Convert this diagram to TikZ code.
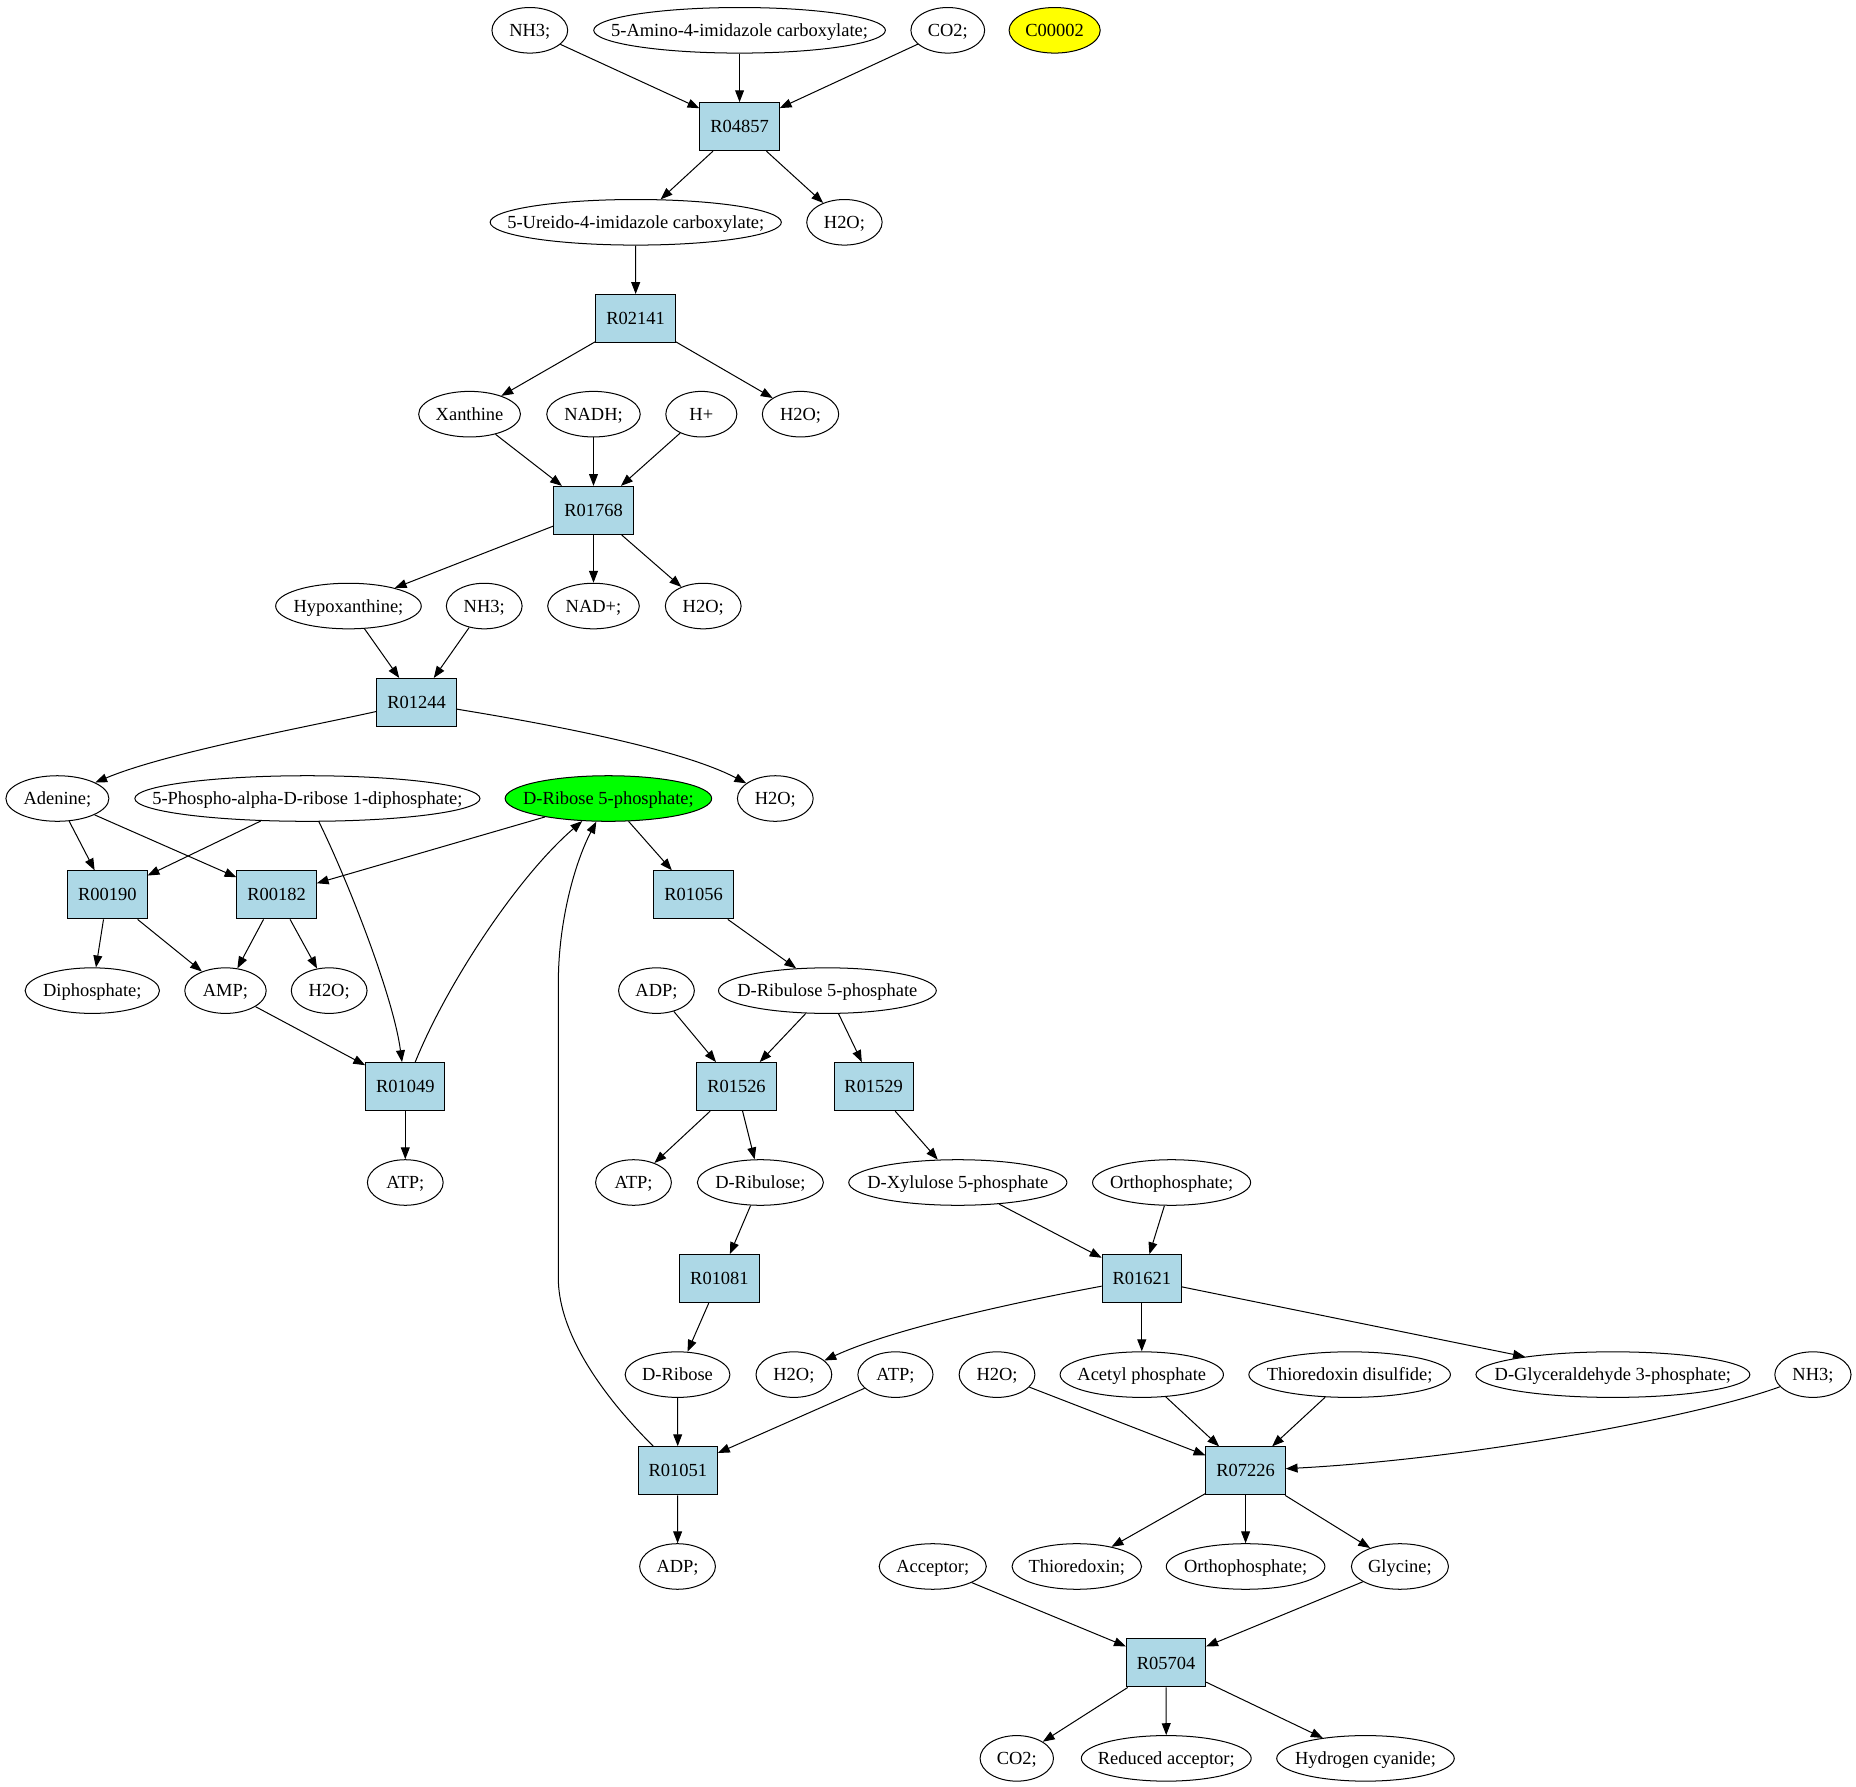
\documentclass[tikz,border=0pt]{standalone}
\usepackage{fontspec}
\setmainfont{Liberation Serif}
\usetikzlibrary{shapes.geometric,arrows.meta}
\definecolor{lblue}{RGB}{173,216,230}
\definecolor{cgreen}{RGB}{0,255,0}
\definecolor{cyellow}{RGB}{255,255,0}
\newcommand\zb[1]{\makebox[0pt]{#1}}
\begin{document}
\begin{tikzpicture}[x=1pt,y=-1pt,
  lbl/.style={font=\fontsize{15.6}{18}\selectfont, text height=12pt, text depth=1.7pt, inner sep=0pt, line width=0.85pt},
  cpd/.style={lbl, ellipse, draw, minimum height=38.5pt},
  rxn/.style={lbl, rectangle, draw, fill=lblue, minimum width=67pt, minimum height=40.6pt},
  arr/.style={-{Triangle[length=10pt,width=7.5pt]}, line width=0.85pt}]
\useasboundingbox (0,0) rectangle (1568,1509.7);
% row 1
\node[cpd, minimum width=64pt] (nhA) at (447.6,25.6) {\zb{NH3;}};
\node[cpd, minimum width=246.4pt] (aic) at (624.8,25.6) {\zb{5-Amino-4-imidazole carboxylate;}};
\node[cpd, minimum width=62.3pt] (coA) at (800.7,25.6) {\zb{CO2;}};
\node[cpd, minimum width=77pt, fill=cyellow] (c2) at (891,25.6) {\zb{C00002}};
\node[rxn] (R04857) at (624.8,107) {R04857};
% row 2
\node[cpd, minimum width=246pt] (uic) at (537.1,187.8) {\zb{5-Ureido-4-imidazole carboxylate;}};
\node[cpd, minimum width=63.7pt] (hoA) at (713.4,187.8) {\zb{H2O;}};
\node[rxn] (R02141) at (537,269.1) {R02141};
% row 3
\node[cpd, minimum width=86pt] (xan) at (396.7,349.9) {\zb{Xanthine}};
\node[cpd, minimum width=79pt] (nadh) at (501.4,349.9) {\zb{NADH;}};
\node[cpd, minimum width=60pt] (hp) at (592.5,349.9) {\zb{H+}};
\node[cpd, minimum width=64.5pt] (hoB) at (676.3,349.9) {\zb{H2O;}};
\node[rxn] (R01768) at (501.4,431.2) {R01768};
% row 4
\node[cpd, minimum width=123pt] (hyp) at (294.4,512) {\zb{Hypoxanthine;}};
\node[cpd, minimum width=64pt] (nhB) at (409.1,512) {\zb{NH3;}};
\node[cpd, minimum width=77.4pt] (nad) at (501.4,512) {\zb{NAD+;}};
\node[cpd, minimum width=64pt] (hoC) at (594.1,512) {\zb{H2O;}};
\node[rxn] (R01244) at (351.9,593.5) {R01244};
% row 5
\node[cpd, minimum width=87pt] (ade) at (48.5,674.6) {\zb{Adenine;}};
\node[cpd, minimum width=291.6pt] (prpp) at (259.7,674.6) {\zb{5-Phospho-alpha-D-ribose 1-diphosphate;}};
\node[cpd, minimum width=174.5pt, fill=cgreen] (r5p) at (514,674.6) {\zb{D-Ribose 5-phosphate;}};
\node[cpd, minimum width=64pt] (hoD) at (655,674.6) {\zb{H2O;}};
\node[rxn] (R00190) at (90.7,756) {R00190};
\node[rxn] (R00182) at (233.7,756) {R00182};
\node[rxn] (R01056) at (585.9,756) {R01056};
% row 7
\node[cpd, minimum width=113.5pt] (dip) at (78,836.9) {\zb{Diphosphate;}};
\node[cpd, minimum width=68.8pt] (amp) at (190.5,836.9) {\zb{AMP;}};
\node[cpd, minimum width=64pt] (hoE) at (278.1,836.9) {\zb{H2O;}};
\node[cpd, minimum width=64pt] (adpA) at (554.6,836.9) {\zb{ADP;}};
\node[cpd, minimum width=184pt] (ru5p) at (699,836.9) {\zb{D-Ribulose 5-phosphate}};
\node[rxn] (R01049) at (342.4,918) {R01049};
\node[rxn] (R01526) at (622.2,918) {R01526};
\node[rxn] (R01529) at (738.1,918) {R01529};
% row 9
\node[cpd, minimum width=64pt] (atpA) at (342.4,999) {\zb{ATP;}};
\node[cpd, minimum width=64pt] (atpB) at (535.2,999) {\zb{ATP;}};
\node[cpd, minimum width=106.5pt] (rul) at (642.4,999) {\zb{D-Ribulose;}};
\node[cpd, minimum width=184.3pt] (xu5p) at (809.2,999) {\zb{D-Xylulose 5-phosphate}};
\node[cpd, minimum width=133.5pt] (piA) at (989.8,999) {\zb{Orthophosphate;}};
\node[rxn] (R01081) at (607.8,1080.2) {R01081};
\node[rxn] (R01621) at (964.6,1080.3) {R01621};
% row 11
\node[cpd, minimum width=88.5pt] (rib) at (572.4,1161.3) {\zb{D-Ribose}};
\node[cpd, minimum width=64pt] (hoF) at (670.7,1161.3) {\zb{H2O;}};
\node[cpd, minimum width=63.5pt] (atpC) at (756.5,1161.3) {\zb{ATP;}};
\node[cpd, minimum width=64pt] (hoG) at (842.3,1161.3) {\zb{H2O;}};
\node[cpd, minimum width=138pt] (acp) at (964.6,1161.3) {\zb{Acetyl phosphate}};
\node[cpd, minimum width=170.3pt] (trxs) at (1140.2,1161.3) {\zb{Thioredoxin disulfide;}};
\node[cpd, minimum width=231.4pt] (g3p) at (1362.6,1161.3) {\zb{D-Glyceraldehyde 3-phosphate;}};
\node[cpd, minimum width=64.4pt] (nhC) at (1531.6,1161.3) {\zb{NH3;}};
\node[rxn] (R01051) at (572.6,1242.5) {R01051};
\node[rxn] (R07226) at (1052.3,1242.6) {R07226};
% row 13
\node[cpd, minimum width=64pt] (adpB) at (572.4,1323.4) {\zb{ADP;}};
\node[cpd, minimum width=90.5pt] (acc) at (788,1323.4) {\zb{Acceptor;}};
\node[cpd, minimum width=109.4pt] (trx) at (909.7,1323.4) {\zb{Thioredoxin;}};
\node[cpd, minimum width=134pt] (piB) at (1052.3,1323.4) {\zb{Orthophosphate;}};
\node[cpd, minimum width=82pt] (gly) at (1182.7,1323.4) {\zb{Glycine;}};
\node[rxn] (R05704) at (985.1,1404.9) {R05704};
% row 15
\node[cpd, minimum width=62pt] (coB) at (859,1485.5) {\zb{CO2;}};
\node[cpd, minimum width=143.5pt] (racc) at (985.3,1485.5) {\zb{Reduced acceptor;}};
\node[cpd, minimum width=150pt] (hcn) at (1153.6,1485.5) {\zb{Hydrogen cyanide;}};
% edges
\draw[arr] (nhA) -- (R04857);
\draw[arr] (aic) -- (R04857);
\draw[arr] (coA) -- (R04857);
\draw[arr] (R04857) -- (uic);
\draw[arr] (R04857) -- (hoA);
\draw[arr] (uic) -- (R02141);
\draw[arr] (R02141) -- (xan);
\draw[arr] (R02141) -- (hoB);
\draw[arr] (xan) -- (R01768);
\draw[arr] (nadh) -- (R01768);
\draw[arr] (hp) -- (R01768);
\draw[arr] (R01768) -- (hyp);
\draw[arr] (R01768) -- (nad);
\draw[arr] (R01768) -- (hoC);
\draw[arr] (hyp) -- (R01244);
\draw[arr] (nhB) -- (R01244);
\draw[arr] (R01244) .. controls (260,614) and (140,636) .. (ade);
\draw[arr] (R01244) .. controls (440,608) and (570,630) .. (hoD);
\draw[arr] (ade) -- (R00190);
\draw[arr] (ade) -- (R00182);
\draw[arr] (prpp) -- (R00190);
\draw[arr] (prpp) .. controls (292,740) and (332,840) .. (R01049);
\draw[arr] (r5p) -- (R00182);
\draw[arr] (r5p) -- (R01056);
\draw[arr] (R00190) -- (dip);
\draw[arr] (R00190) -- (amp);
\draw[arr] (R00182) -- (amp);
\draw[arr] (R00182) -- (hoE);
\draw[arr] (amp) -- (R01049);
\draw[arr] (R01049) -- (atpA);
\draw[arr] (R01049) .. controls (378,830) and (438,740) .. (r5p);
\draw[arr] (R01056) -- (ru5p);
\draw[arr] (adpA) -- (R01526);
\draw[arr] (ru5p) -- (R01526);
\draw[arr] (ru5p) -- (R01529);
\draw[arr] (R01526) -- (atpB);
\draw[arr] (R01526) -- (rul);
\draw[arr] (R01529) -- (xu5p);
\draw[arr] (rul) -- (R01081);
\draw[arr] (R01081) -- (rib);
\draw[arr] (xu5p) -- (R01621);
\draw[arr] (piA) -- (R01621);
\draw[arr] (R01621) .. controls (880,1096) and (760,1120) .. (hoF);
\draw[arr] (R01621) -- (acp);
\draw[arr] (R01621) -- (g3p);
\draw[arr] (rib) -- (R01051);
\draw[arr] (atpC) -- (R01051);
\draw[arr] (R01051) .. controls (500,1170) and (471.7,1120) .. (471.7,1080) -- (471.7,830) .. controls (471.7,780) and (485,730) .. (r5p);
\draw[arr] (R01051) -- (adpB);
\draw[arr] (hoG) -- (R07226);
\draw[arr] (acp) -- (R07226);
\draw[arr] (trxs) -- (R07226);
\draw[arr] (nhC) .. controls (1440,1195) and (1250,1232) .. (R07226);
\draw[arr] (R07226) -- (trx);
\draw[arr] (R07226) -- (piB);
\draw[arr] (R07226) -- (gly);
\draw[arr] (acc) -- (R05704);
\draw[arr] (gly) -- (R05704);
\draw[arr] (R05704) -- (coB);
\draw[arr] (R05704) -- (racc);
\draw[arr] (R05704) -- (hcn);
\end{tikzpicture}
\end{document}
